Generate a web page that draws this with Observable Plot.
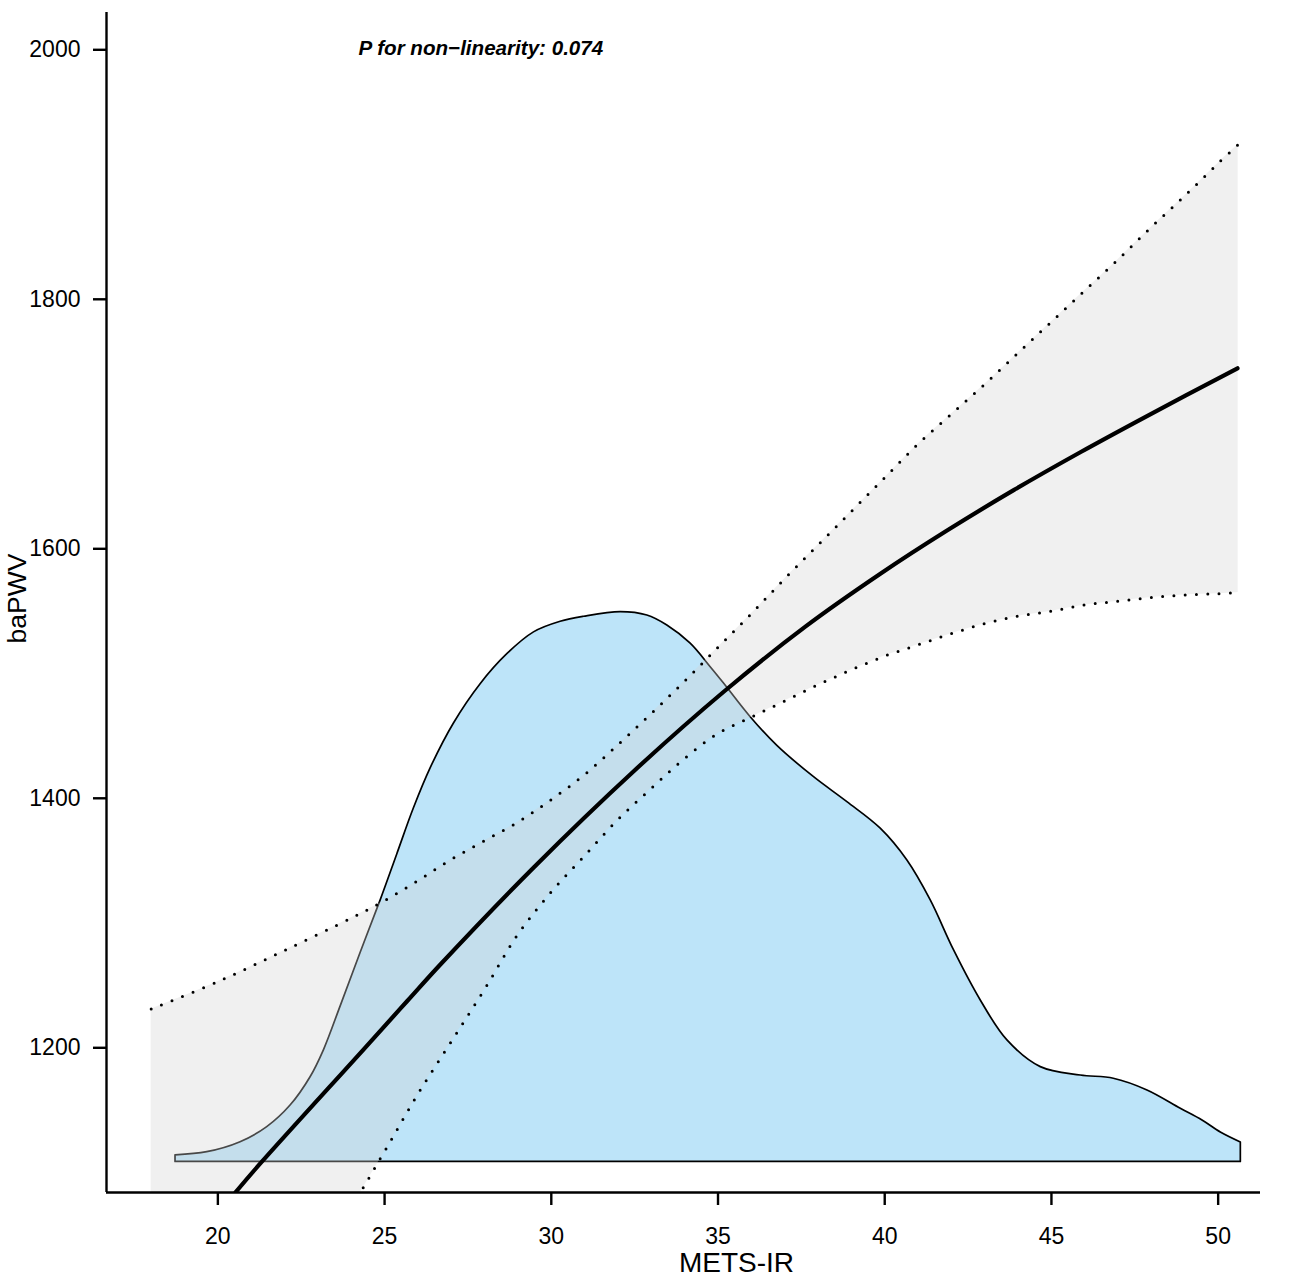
<!DOCTYPE html>
<html>
<head>
<meta charset="utf-8">
<script src="https://cdn.jsdelivr.net/npm/d3@7"></script>
<script src="https://cdn.jsdelivr.net/npm/@observablehq/plot@0.6"></script>
<style>
  body { margin: 0; background: #fff; }
  #chart svg { display: block; }
</style>
</head>
<body>
<div id="chart"></div>
<script>
// ---- tick labels and texts ----
const xTicks = [20, 25, 30, 35, 40, 45, 50];
const yTicks = [1200, 1400, 1600, 1800, 2000];
const xLabel = "METS-IR";
const yLabel = "baPWV";
const pText = "P for non\u2212linearity: 0.074";

// ---- fitted curve (solid) ----
const fitX = [20.53, 21.28, 24.38, 25.68, 26.68, 29.48, 32.48, 35.18, 37.63, 39.87, 41.88, 43.88, 45.88, 47.88, 50.58];
const fitY = [1084.2, 1107.5, 1199, 1237.5, 1267, 1344.8, 1421.9, 1485.6, 1537.8, 1580, 1614.8, 1647.2, 1677.6, 1706.6, 1744.7];

// ---- 95% confidence band (dotted) ----
const ciX = [18, 20, 22, 24, 25, 26, 27, 28, 29, 30, 31, 32, 33, 34, 35, 36, 37, 38, 39, 40, 41, 42, 43, 44, 45, 46, 47, 48, 49, 50, 50.6];
const ciUpper = [1231, 1253, 1278, 1304, 1318, 1334, 1351, 1366, 1381, 1399, 1419, 1443, 1468, 1494, 1521, 1548, 1576, 1603, 1630, 1657, 1684, 1708, 1732, 1757, 1782, 1807, 1832, 1858, 1883, 1909, 1924];
const ciLower = [820, 905, 990, 1072, 1117, 1163, 1205, 1247, 1291, 1325, 1354, 1383, 1408, 1432, 1452, 1465, 1478, 1491, 1503, 1514, 1523, 1532, 1540, 1546, 1550, 1555, 1558, 1561, 1563, 1564, 1565];

// ---- distribution of METS-IR (density silhouette) ----
const densX = [18.73, 19.68, 20.68, 21.48, 22.18, 22.78, 23.18, 23.68, 24.28, 24.88, 25.38, 25.88, 26.38, 27.08, 27.88, 28.68, 29.48, 30.28, 30.98, 32.08, 32.88, 33.48, 34.18, 34.78, 35.18, 35.98, 36.78, 37.88, 38.88, 39.88, 40.68, 41.38, 42.08, 42.88, 43.68, 44.68, 45.88, 46.87, 47.88, 48.88, 49.53, 50.08, 50.68];
const densY = [1113.8, 1116.3, 1124.3, 1136.4, 1153.7, 1176.4, 1198, 1233, 1276, 1318, 1355, 1392, 1424, 1460, 1491.5, 1515.5, 1533, 1541.5, 1545.5, 1549.2, 1546.5, 1538.5, 1523.9, 1505.1, 1492, 1465, 1442, 1416.9, 1396.9, 1375.6, 1350.1, 1318.1, 1278, 1237.9, 1205.9, 1184.5, 1177.8, 1175.2, 1165.8, 1151.1, 1141.7, 1132.1, 1124.1];
const densBase = 1108.5;

// ---- axis ranges ----
const xDomain = [16.66, 51.27];
const yDomain = [1084, 2029.9];

const fit = fitX.map((x, i) => ({x, y: fitY[i]}));
const ci = ciX.map((x, i) => ({x, lo: ciLower[i], hi: ciUpper[i]}));
const dens = densX.map((x, i) => ({x, y: densY[i]}));

const font = "'Liberation Sans', Arial, Helvetica, sans-serif";
const curve = "catmull-rom";

const chart = Plot.plot({
  width: 1299,
  height: 1277,
  marginLeft: 106,
  marginRight: 39,
  marginTop: 12,
  marginBottom: 85,
  x: {domain: xDomain},
  y: {domain: yDomain},
  style: {fontFamily: font, color: "#000", background: "#fff"},
  marks: [
    Plot.areaY(dens, {x: "x", y1: densBase, y2: "y", fill: "#bde4f9", stroke: "#000", strokeWidth: 1.7, curve}),
    Plot.areaY(ci, {x: "x", y1: "lo", y2: "hi", fill: "#d3d3d3", fillOpacity: 0.34, curve, clip: true}),
    Plot.line(fit, {x: "x", y: "y", stroke: "#000", strokeWidth: 4.2, curve, clip: true}),
    Plot.line(ci, {x: "x", y: "hi", stroke: "#000", strokeWidth: 3, strokeDasharray: "0,11.3", strokeLinecap: "round", curve, clip: true}),
    Plot.line(ci, {x: "x", y: "lo", stroke: "#000", strokeWidth: 3, strokeDasharray: "0,11.3", strokeLinecap: "round", curve, clip: true}),
    Plot.ruleX([xDomain[0]], {stroke: "#000", strokeWidth: 2.4}),
    Plot.ruleY([yDomain[0]], {stroke: "#000", strokeWidth: 2.4}),
    Plot.axisX({ticks: xTicks, tickSize: 13, tickPadding: 22, fontSize: 23, strokeWidth: 2.4, label: null, tickFormat: d => String(d)}),
    Plot.axisY({ticks: yTicks, tickSize: 13, tickPadding: 13, fontSize: 23, strokeWidth: 2.4, label: null, tickFormat: d => String(d)}),
    Plot.text([xLabel], {text: d => d, frameAnchor: "bottom", textAnchor: "middle", dx: 53, dy: 79, lineAnchor: "bottom", fontSize: 28, fill: "#000"}),
    Plot.text([yLabel], {text: d => d, frameAnchor: "left", textAnchor: "middle", rotate: -90, dx: -81, dy: -4, lineAnchor: "bottom", fontSize: 26.5, fill: "#000"}),
    Plot.text([pText], {text: d => d, frameAnchor: "top-left", dx: 252, dy: 42, textAnchor: "start", lineAnchor: "bottom", fontSize: 20.6, fontWeight: "bold", fontStyle: "italic", fill: "#000"})
  ]
});
document.getElementById("chart").appendChild(chart);
</script>
</body>
</html>
